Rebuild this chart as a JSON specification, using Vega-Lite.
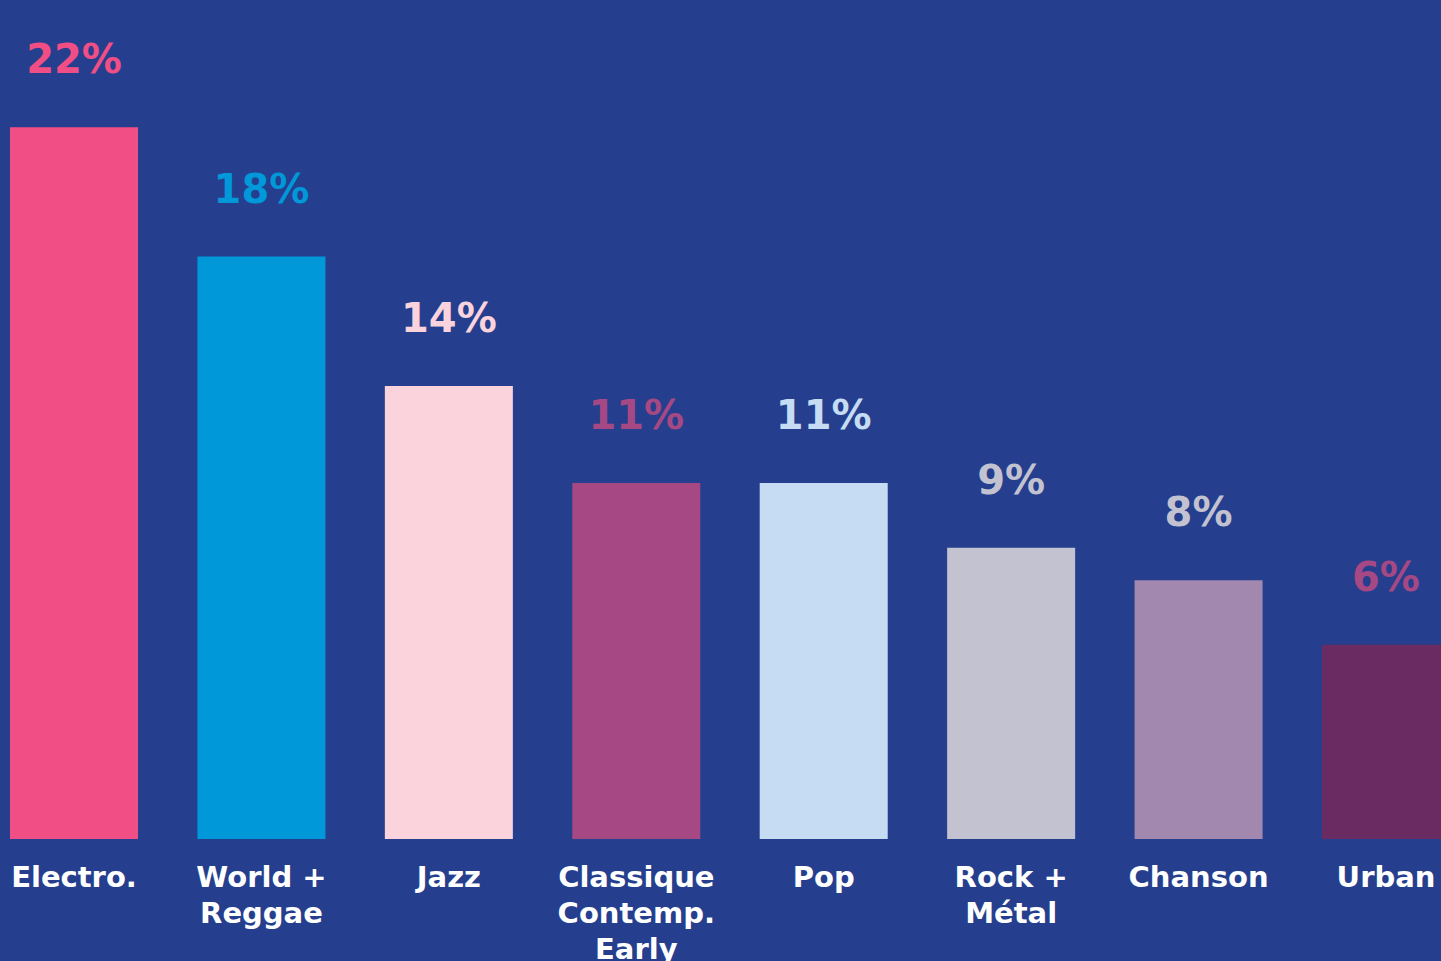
{
  "$schema": "https://vega.github.io/schema/vega-lite/v6.json",
  "width": 1441,
  "height": 839,
  "autosize": {"type": "none"},
  "padding": {"left": 0, "top": 0, "right": 0, "bottom": 122},
  "background": "#253f8e",
  "config": {"view": {"stroke": null}},
  "data": {
    "values": [
      {"genre": "Electro.", "share": 22, "label": "22%"},
      {"genre": "World +|Reggae", "share": 18, "label": "18%"},
      {"genre": "Jazz", "share": 14, "label": "14%"},
      {"genre": "Classique|Contemp.|Early", "share": 11, "label": "11%"},
      {"genre": "Pop", "share": 11, "label": "11%"},
      {"genre": "Rock +|Métal", "share": 9, "label": "9%"},
      {"genre": "Chanson", "share": 8, "label": "8%"},
      {"genre": "Urban", "share": 6, "label": "6%"}
    ]
  },
  "encoding": {
    "x": {
      "field": "genre",
      "type": "nominal",
      "sort": null,
      "scale": {"range": [10, 1450], "paddingInner": 0.317, "paddingOuter": 0},
      "axis": {
        "title": null,
        "domain": false,
        "ticks": false,
        "labelAngle": 0,
        "labelColor": "#ffffff",
        "labelFont": "DejaVu Sans",
        "labelFontWeight": "bold",
        "labelFontSize": 29,
        "labelPadding": 24,
        "labelLineHeight": 36,
        "labelLimit": 0,
        "labelOverlap": false,
        "labelBound": false,
        "labelFlush": false,
        "labelExpr": "split(datum.value, '|')"
      }
    },
    "y": {
      "field": "share",
      "type": "quantitative",
      "scale": {"domain": [0, 25.93], "nice": false, "zero": true},
      "axis": null
    }
  },
  "layer": [
    {
      "mark": {"type": "bar"},
      "encoding": {
        "color": {
          "field": "genre",
          "type": "nominal",
          "sort": null,
          "scale": {
            "domain": ["Electro.", "World +|Reggae", "Jazz", "Classique|Contemp.|Early", "Pop", "Rock +|Métal", "Chanson", "Urban"],
            "range": ["#f04e84", "#0098d8", "#fad3dc", "#a64883", "#c5dcf3", "#c3c2d1", "#a288ae", "#6a2b63"]
          },
          "legend": null
        }
      }
    },
    {
      "mark": {"type": "text", "baseline": "alphabetic", "align": "center", "dy": -54, "font": "DejaVu Sans", "fontWeight": "bold", "fontSize": 40},
      "encoding": {
        "text": {"field": "label"},
        "color": {
          "field": "genre",
          "type": "nominal",
          "sort": null,
          "scale": {
            "domain": ["Electro.", "World +|Reggae", "Jazz", "Classique|Contemp.|Early", "Pop", "Rock +|Métal", "Chanson", "Urban"],
            "range": ["#f04e84", "#0098d8", "#fad3dc", "#a64883", "#c5dcf3", "#c3c2d1", "#c3c2d1", "#a64883"]
          },
          "legend": null
        }
      }
    }
  ],
  "resolve": {"scale": {"color": "independent"}}
}
